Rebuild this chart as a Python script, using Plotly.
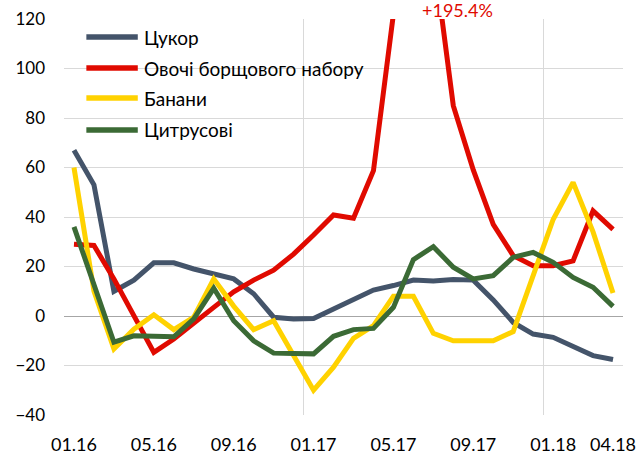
import plotly.graph_objects as go

months = ["01.16", "02.16", "03.16", "04.16", "05.16", "06.16", "07.16", "08.16", "09.16", "10.16",
          "11.16", "12.16", "01.17", "02.17", "03.17", "04.17", "05.17", "06.17", "07.17", "08.17",
          "09.17", "10.17", "11.17", "12.17", "01.18", "02.18", "03.18", "04.18"]
tick_labels = ["01.16", "05.16", "09.16", "01.17", "05.17", "09.17", "01.18", "04.18"]

sugar = [67, 53, 10, 14.5, 21.5, 21.5, 19, 17, 15, 9, -0.5, -1.2, -1, 2.8, 6.6, 10.5, 12.3, 14.5,
         14.1, 14.7, 14.5, 6.5, -2.6, -7.3, -8.6, -12.5, -16, -17.6]
vegetables = [29, 28.5, 15, 0, -14.7, -9.3, -3.2, 3.5, 9.8, 14.5, 18.5, 25, 32.7, 40.8, 39.5, 58.7,
              122, 195.4, 147, 85, 59, 37, 24.4, 20.3, 20.3, 22.3, 42.5, 35]
bananas = [60, 10, -13.3, -5.3, 0.5, -5.5, -0.5, 15, 4, -5.5, -1.9, -16, -30, -20.7, -9, -3.9, 8, 8,
           -7, -10, -10.2, -10, -6.3, 17, 39, 54, 34, 9.3]
citrus = [36, 13, -10.6, -8, -8, -8.4, -1.2, 11.2, -1.9, -10, -15, -15.3, -15.3, -8.2, -5.5, -5, 3.5,
          22.8, 28, 19.7, 15, 16.3, 23.7, 25.7, 21.7, 15.6, 11.6, 3.9]

series_names = ["Цукор", "Овочі борщового набору", "Банани", "Цитрусові"]
series_values = [sugar, vegetables, bananas, citrus]
colors = ["#44546A", "#E00A00", "#FFD200", "#3B6A35"]

FONT = "Lato, 'Open Sans', sans-serif"
x_idx = list(range(len(months)))
tick_idx = [months.index(t) for t in tick_labels]

fig = go.Figure()
for name, vals, col in zip(series_names, series_values, colors):
    fig.add_trace(go.Scatter(x=x_idx, y=vals, name=name, mode="lines",
                             line=dict(color=col, width=5), showlegend=False))

# invisible trace to activate the overlay axis for year-boundary gridlines
fig.add_trace(go.Scatter(x=[None], y=[None], xaxis="x2", showlegend=False, hoverinfo="skip"))

peak = max(vegetables)
peak_i = vegetables.index(peak)

# custom legend (line samples + labels)
leg_y = [0.9545, 0.876, 0.8005, 0.7197]
shapes = []
annotations = []
for name, col, ly in zip(series_names, colors, leg_y):
    shapes.append(dict(type="line", xref="paper", yref="paper", x0=0.040, x1=0.132, y0=ly, y1=ly,
                       line=dict(color=col, width=5.5), layer="above"))
    annotations.append(dict(text=name, xref="paper", yref="paper", x=0.139, y=ly, xanchor="left",
                            yanchor="middle", showarrow=False,
                            font=dict(family=FONT, size=19, color="#000000")))

annotations.append(dict(text=f"+{peak}%", xref="x", yref="paper", x=peak_i + 2.2, y=1.022,
                        xanchor="center", yanchor="middle", showarrow=False,
                        font=dict(family=FONT, size=18, color="#E00A00")))

fig.update_layout(
    width=638, height=455,
    margin=dict(l=64, r=15.4, t=19, b=39.5),
    paper_bgcolor="white", plot_bgcolor="white",
    font=dict(family=FONT, size=17, color="#000000"),
    xaxis=dict(range=[-0.5, len(months) - 0.5], tickmode="array", tickvals=tick_idx,
               ticktext=tick_labels, showgrid=False, zeroline=False, showline=False,
               ticks="", tickfont=dict(size=18), ticklabelstandoff=17, automargin=False),
    xaxis2=dict(range=[-0.5, len(months) - 0.5], overlaying="x", tickmode="array",
                tickvals=[-0.5, 11.5, 23.5], showgrid=True, gridcolor="#D9D9D9", gridwidth=1,
                showticklabels=False, ticks="", zeroline=False, showline=False, side="bottom",
                automargin=False),
    yaxis=dict(range=[-40, 120], dtick=20, showgrid=True, gridcolor="#D9D9D9", gridwidth=1,
               zeroline=True, zerolinecolor="#A6A6A6", zerolinewidth=1, showline=False,
               ticks="", tickfont=dict(size=17), ticklabelstandoff=18, automargin=False),
    shapes=shapes,
    annotations=annotations,
)

fig.write_html("out.html", config={"displayModeBar": False},
               post_script="document.body.style.margin='0';document.body.style.overflow='hidden';")
